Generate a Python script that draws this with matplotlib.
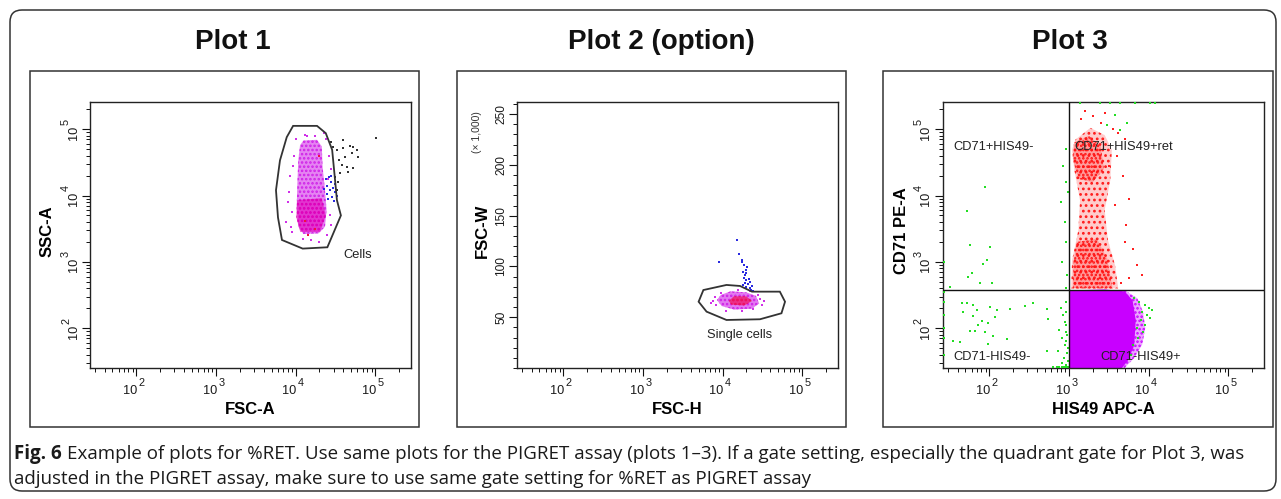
import numpy as np
import matplotlib
matplotlib.use("Agg")
import matplotlib.pyplot as plt
from matplotlib.patches import Polygon, Rectangle, FancyBboxPatch
from matplotlib.transforms import IdentityTransform, blended_transform_factory, offset_copy
from matplotlib.ticker import FixedLocator, LogLocator, MultipleLocator, NullFormatter

plt.rcParams['font.family'] = ['Liberation Sans', 'DejaVu Sans']
plt.rcParams['hatch.linewidth'] = 1.2

# ------------------------------------------------------------------ data
# log axes: values stored as log10 exponents
LOG_LIM_X = [1.42, 5.45]
LOG_LIM_Y = [1.40, 5.41]
DECADES = [2, 3, 4, 5]

TITLES = ["Plot 1", "Plot 2 (option)", "Plot 3"]
XLABELS = ["FSC-A", "FSC-H", "HIS49 APC-A"]
YLABELS = ["SSC-A", "FSC-W", "CD71 PE-A"]

# Plot 1 (FSC-A vs SSC-A)
P1_GATE_LX = [3.97, 4.27, 4.38, 4.46, 4.50, 4.52, 4.57, 4.40, 4.09, 3.83, 3.78, 3.755, 3.805, 3.89]
P1_GATE_LY = [5.05, 5.05, 4.94, 4.69, 4.19, 3.93, 3.70, 3.22, 3.20, 3.33, 3.67, 4.08, 4.53, 4.88]
P1_CLOUD_LX = [4.10, 4.27, 4.33, 4.34, 4.37, 4.39, 4.37, 4.29, 4.10, 4.035, 4.015, 4.023, 4.035, 4.057]
P1_CLOUD_LY = [4.83, 4.84, 4.74, 4.43, 4.08, 3.78, 3.53, 3.43, 3.42, 3.53, 3.83, 4.18, 4.53, 4.76]
P1_DENSE_LX = [4.02, 4.33, 4.38, 4.31, 4.06, 4.01]
P1_DENSE_LY = [3.93, 3.96, 3.70, 3.45, 3.45, 3.67]
P1_HALO_LX = [3.93, 3.90, 3.88, 3.95, 3.98, 4.00, 4.15, 4.25, 4.38, 4.42, 4.45, 4.43, 4.45, 4.40,
              4.20, 4.10, 3.96, 3.92, 4.36, 4.30, 3.97, 4.41, 3.94, 4.12]
P1_HALO_LY = [4.30, 3.90, 3.60, 3.45, 4.60, 4.85, 4.90, 4.90, 4.85, 4.60, 4.40, 3.70, 3.55, 3.40,
              3.33, 3.35, 3.75, 4.05, 4.95, 3.30, 4.45, 4.25, 3.52, 4.92]
P1_RED_LX = [4.16, 4.25, 4.12, 4.30]
P1_RED_LY = [3.40, 3.50, 3.62, 4.60]
P1_BLUE_LX = [4.38, 4.42, 4.45, 4.40, 4.47, 4.43, 4.50, 4.39, 4.46, 4.52, 4.41, 4.48, 4.44, 4.50, 4.36]
P1_BLUE_LY = [4.25, 4.28, 4.20, 4.15, 4.12, 4.08, 4.05, 4.02, 3.98, 4.00, 3.95, 3.92, 4.30, 4.18, 4.10]
P1_BLACK_LX = [4.446, 4.475, 4.517, 4.600, 4.684, 4.768, 4.706, 4.622, 4.550, 4.580, 4.651, 4.726,
               4.663, 4.559, 4.496, 4.538, 4.525, 4.597, 4.72, 4.785, 5.01]
P1_BLACK_LY = [4.810, 4.735, 4.685, 4.710, 4.745, 4.685, 4.635, 4.583, 4.534, 4.458, 4.432, 4.408,
               4.357, 4.333, 4.281, 4.206, 4.080, 4.836, 4.73, 4.58, 4.87]
P1_GATE_NAME = "Cells"
P1_GATE_NAME_POS = [4.60, 3.10]

# Plot 2 (FSC-H vs FSC-W, W in thousands)
P2_YLIM = [0, 262]
P2_YTICKS = [50, 100, 150, 200, 250]
P2_GATE_LX = [3.70, 3.76, 4.05, 4.22, 4.37, 4.72, 4.785, 4.74, 4.47, 4.05, 3.80]
P2_GATE_Y = [65.3, 76.8, 81.8, 80.8, 75.2, 75.2, 65.3, 53.9, 48.0, 47.3, 55.5]
P2_CLOUD_LX = [3.93, 3.98, 4.10, 4.30, 4.42, 4.46, 4.37, 4.15, 3.99]
P2_CLOUD_Y = [67, 72, 75.5, 74.5, 71, 63.5, 58.5, 57.5, 61]
P2_CORE_LX = [4.08, 4.14, 4.30, 4.37, 4.27, 4.11]
P2_CORE_Y = [66, 70.5, 70.5, 66, 61.5, 62.5]
P2_HALO_LX = [3.88, 3.92, 3.90, 4.45, 4.50, 4.47, 4.05, 4.25, 4.38, 4.20, 4.35, 4.52, 3.98, 3.86]
P2_HALO_Y = [66, 62, 70, 72, 62, 68, 56, 56, 58, 77, 76, 66, 74, 64]
P2_BLUE_LX = [4.18, 4.21, 3.95, 4.24, 4.27, 4.29, 4.26, 4.31, 4.25, 4.28, 4.27, 4.30, 4.33, 4.28,
              4.32, 4.35, 4.30, 4.34, 4.37, 4.36, 4.26, 4.38, 4.29]
P2_BLUE_Y = [126, 112, 104, 104, 101, 97, 95, 99, 106, 92, 89, 87, 88, 84,
             83, 85, 80, 79, 81, 77, 82, 76, 94]
P2_GATE_NAME = "Single cells"
P2_GATE_NAME_POS = [4.22, 32.5]
P2_SCALE_NOTE = "(\u00d7 1,000)"

# Plot 3 (HIS49 APC-A vs CD71 PE-A)
P3_QUAD_LX = 3.0
P3_QUAD_LY = 2.57
P3_MAGH_LX = [3.40, 3.72, 3.86, 3.93, 3.96, 3.92, 3.82, 3.70, 3.60]
P3_MAGH_LY = [2.57, 2.56, 2.45, 2.25, 2.00, 1.75, 1.55, 1.40, 1.40]
P3_MAG_LX = [3.008, 3.45, 3.70, 3.80, 3.84, 3.82, 3.74, 3.66, 3.008]
P3_MAG_LY = [2.569, 2.585, 2.555, 2.42, 2.12, 1.74, 1.51, 1.39, 1.39]
P3_RED_LX = [3.08, 3.27, 3.45, 3.54, 3.52, 3.45, 3.49, 3.58, 3.62, 3.03, 3.04, 3.12, 3.14, 3.07, 3.04]
P3_RED_LY = [4.84, 5.02, 4.91, 4.69, 4.23, 3.78, 3.33, 2.95, 2.60, 2.60, 3.02, 3.48, 3.93, 4.38, 4.69]
P3_RED_TOP_LX = [3.07, 3.25, 3.40, 3.44, 3.30, 3.12, 3.05]
P3_RED_TOP_LY = [4.80, 4.90, 4.75, 4.40, 4.20, 4.25, 4.55]
P3_RED_BOT_LX = [3.10, 3.35, 3.48, 3.55, 3.05, 3.06]
P3_RED_BOT_LY = [3.30, 3.35, 3.05, 2.60, 2.60, 3.00]
P3_REDPTS_LX = [3.15, 3.30, 3.40, 3.55, 3.62, 3.45, 3.70, 3.60, 3.68, 3.75, 3.72, 3.80, 3.85,
                3.92, 3.75, 3.65, 3.70, 3.58, 3.20, 3.50]
P3_REDPTS_LY = [5.15, 5.20, 5.10, 5.00, 4.95, 5.25, 4.85, 4.60, 4.30, 3.95, 3.55, 3.20, 2.95,
                2.80, 2.75, 2.68, 3.30, 3.85, 5.28, 4.45]
P3_GREEN_LX = [1.947, 1.718, 1.759, 2.010, 1.926, 1.969, 1.780, 1.738, 1.885, 2.031, 1.508,
               1.655, 1.718, 1.800, 1.851, 2.010, 2.094, 2.261, 2.450, 2.554, 1.675, 1.800,
               1.906, 1.989, 2.073, 2.722, 2.742, 1.759, 1.822, 1.947, 2.052, 1.863, 2.220,
               1.549, 1.633, 1.989, 2.722,
               2.90, 2.93, 2.96, 2.95, 2.97, 2.88, 2.96, 2.98, 2.92, 2.97, 2.95, 2.985, 2.87,
               2.98, 2.96, 2.97, 2.94, 2.99, 2.91, 2.96,
               2.80, 2.85, 2.88, 2.91, 2.94, 2.97, 2.99,
               2.93, 2.96, 2.90, 2.95, 2.97, 2.92, 2.98, 2.96, 2.99,
               1.43, 1.43, 1.43, 1.43, 1.43, 1.43, 1.43,
               3.39, 3.52, 3.64, 3.83, 4.02, 4.08, 3.14,
               3.48, 3.64, 3.73, 3.58,
               3.82, 3.88, 3.95, 4.00, 3.92, 3.98, 4.05, 3.90, 3.96, 3.85, 4.02, 3.93, 3.87,
               3.80, 3.78]
P3_GREEN_LY = [4.130, 3.768, 3.249, 3.224, 2.973, 3.033, 2.837, 2.770, 2.686, 2.686, 2.619,
               2.377, 2.377, 2.343, 2.277, 2.317, 2.267, 2.293, 2.328, 2.377, 2.241, 2.191,
               2.116, 2.075, 2.166, 2.293, 2.142, 1.965, 1.954, 1.939, 1.889, 2.041, 1.839,
               1.814, 1.788, 1.764, 1.663,
               2.30, 2.20, 2.25, 2.10, 2.05, 1.98, 1.95, 1.90, 1.85, 1.80, 1.75, 1.70, 1.65,
               1.62, 2.40, 2.60, 1.55, 1.50, 1.48, 1.45,
               1.41, 1.41, 1.41, 1.41, 1.41, 1.41, 1.41,
               4.45, 4.20, 3.90, 3.60, 3.30, 3.00, 2.80, 4.70, 4.05,
               2.00, 2.20, 2.40, 2.55, 1.85, 3.00, 1.60,
               5.40, 5.40, 5.40, 5.40, 5.40, 5.40, 5.40,
               5.06, 4.99, 5.09, 5.21,
               2.45, 2.40, 2.35, 2.30, 2.25, 2.20, 2.28, 2.12, 2.05, 2.00, 2.15, 1.95, 1.85,
               1.75, 1.60]
P3_QUAD_NAMES = ["CD71+HIS49-", "CD71+HIS49+ret", "CD71-HIS49-", "CD71-HIS49+"]
P3_QUAD_NAME_LX = [1.55, 3.07, 1.55, 3.39]
P3_QUAD_NAME_LY = [4.735, 4.735, 1.562, 1.562]

CAPTION_BOLD = "Fig. 6"
CAPTION_LINE1 = ("Example of plots for %RET. Use same plots for the PIGRET assay (plots 1\u20133). "
                 "If a gate setting, especially the quadrant gate for Plot 3, was")
CAPTION_LINE2 = ("adjusted in the PIGRET assay, make sure to use same gate setting for %RET as "
                 "PIGRET assay")

# ------------------------------------------------------------------ layout
W, H = 1281, 499
fig = plt.figure(figsize=(W / 100, H / 100), dpi=100)

def fx(x):
    return x / W

def fy(y):
    return 1 - y / H

AX_LEFT = [90, 517, 943]
AX_W = 321
AX_TOP, AX_BOTTOM = 102, 368
AX_H = AX_BOTTOM - AX_TOP
PANEL_LR = [(30, 419), (457, 846), (883, 1273)]
PANEL_TB = (71, 427)
TITLE_X = [233, 661, 1070]
TITLE_Y = 42
YLABEL_OFF = [43, 35, 41]   # px left of axes

fig.add_artist(FancyBboxPatch((10, H - 491), 1266, 481,
                              boxstyle="round,pad=0,rounding_size=12",
                              transform=IdentityTransform(), fill=False,
                              ec='#333333', lw=1.1))

for (l, r), tx, title in zip(PANEL_LR, TITLE_X, TITLES):
    fig.add_artist(Rectangle((fx(l), fy(PANEL_TB[1])), fx(r - l), (PANEL_TB[1] - PANEL_TB[0]) / H,
                             transform=fig.transFigure, fill=False, ec='#333333', lw=1.1))
    fig.text(fx(tx), fy(TITLE_Y), title, ha='center', va='center',
             fontsize=20, fontweight='bold', color='#111111')

axes = []
for l in AX_LEFT:
    ax = fig.add_axes([fx(l), fy(AX_BOTTOM), AX_W / W, AX_H / H])
    axes.append(ax)

def pow10(v):
    return np.power(10.0, np.asarray(v, dtype=float))

TICK_TXT = dict(color='#1a1a1a', ha='center', va='center', clip_on=False)
BASE_FS, EXP_FS = 9.2, 7.8

def decade_labels_x(ax):
    bx = blended_transform_factory(ax.transData, ax.transAxes)
    for d in DECADES:
        ax.text(pow10(d), 0, '10', fontsize=BASE_FS,
                transform=offset_copy(bx, x=-6, y=-23, units='dots'), **TICK_TXT)
        ax.text(pow10(d), 0, str(d), fontsize=EXP_FS,
                transform=offset_copy(bx, x=5.5, y=-15, units='dots'), **TICK_TXT)

def decade_labels_y(ax):
    by = blended_transform_factory(ax.transAxes, ax.transData)
    for d in DECADES:
        ax.text(0, pow10(d), '10', fontsize=BASE_FS, rotation=90,
                transform=offset_copy(by, x=-16.5, y=-3.5, units='dots'), **TICK_TXT)
        ax.text(0, pow10(d), str(d), fontsize=EXP_FS, rotation=90,
                transform=offset_copy(by, x=-24, y=7.5, units='dots'), **TICK_TXT)

def style_axes(ax, xlabel, ylabel, ylab_off, logy=True):
    ax.set_xscale('log')
    ax.set_xlim(pow10(LOG_LIM_X[0]), pow10(LOG_LIM_X[1]))
    ax.xaxis.set_major_locator(FixedLocator(pow10(DECADES)))
    ax.xaxis.set_minor_locator(LogLocator(base=10, subs=np.arange(2, 10), numticks=20))
    ax.xaxis.set_major_formatter(NullFormatter())
    ax.xaxis.set_minor_formatter(NullFormatter())
    decade_labels_x(ax)
    if logy:
        ax.set_yscale('log')
        ax.set_ylim(pow10(LOG_LIM_Y[0]), pow10(LOG_LIM_Y[1]))
        ax.yaxis.set_major_locator(FixedLocator(pow10(DECADES)))
        ax.yaxis.set_minor_locator(LogLocator(base=10, subs=np.arange(2, 10), numticks=20))
        decade_labels_y(ax)
    ax.yaxis.set_major_formatter(NullFormatter())
    ax.yaxis.set_minor_formatter(NullFormatter())
    ax.tick_params(which='major', direction='out', length=5.5, width=0.8, color='#111111',
                   top=False, right=False)
    ax.tick_params(which='minor', direction='out', length=3.2, width=0.7, color='#111111',
                   top=False, right=False)
    for s in ax.spines.values():
        s.set_linewidth(1.0)
        s.set_color('#222222')
    ax.set_xlabel(xlabel, fontsize=12, fontweight='bold', va='center')
    ax.xaxis.set_label_coords(0.5, -41 / AX_H)
    ax.set_ylabel(ylabel, fontsize=12, fontweight='bold', va='center')
    ax.yaxis.set_label_coords(-ylab_off / AX_W, 0.515)

GATE_KW = dict(fill=False, ec='#333333', lw=1.3, zorder=4, closed=True)
DOT_KW = dict(s=3, marker='s', linewidths=0, zorder=3)
LABEL_KW = dict(fontsize=9.3, color='#222222', zorder=5)

def poly(lx, y, logy=True):
    yy = pow10(y) if logy else np.asarray(y, dtype=float)
    return np.column_stack([pow10(lx), yy])

def dotted_region(ax, verts, color, base_alpha, hatch, z):
    ax.add_patch(Polygon(verts, closed=True, fc=color, ec='none', alpha=base_alpha, zorder=z))
    ax.add_patch(Polygon(verts, closed=True, fc='none', ec=color, lw=0, hatch=hatch, zorder=z))

# ---------------- Plot 1
ax = axes[0]
style_axes(ax, XLABELS[0], YLABELS[0], YLABEL_OFF[0])
dotted_region(ax, poly(P1_CLOUD_LX, P1_CLOUD_LY), '#D020E8', 0.55, '....', 1)
dotted_region(ax, poly(P1_DENSE_LX, P1_DENSE_LY), '#E000B8', 0.6, '....', 2)
ax.scatter(pow10(P1_HALO_LX), pow10(P1_HALO_LY), c='#D030E8', **DOT_KW)
ax.scatter(pow10(P1_RED_LX), pow10(P1_RED_LY), c='#F01040', **DOT_KW)
ax.scatter(pow10(P1_BLUE_LX), pow10(P1_BLUE_LY), c='#2A2AE0', **DOT_KW)
ax.scatter(pow10(P1_BLACK_LX), pow10(P1_BLACK_LY), c='#333333', **DOT_KW)
ax.add_patch(Polygon(poly(P1_GATE_LX, P1_GATE_LY), **GATE_KW))
ax.text(pow10(P1_GATE_NAME_POS[0]), pow10(P1_GATE_NAME_POS[1]), P1_GATE_NAME,
        ha='left', va='center', **LABEL_KW)

# ---------------- Plot 2
ax = axes[1]
style_axes(ax, XLABELS[1], YLABELS[1], YLABEL_OFF[1], logy=False)
ax.set_ylim(*P2_YLIM)
ax.yaxis.set_major_locator(FixedLocator(P2_YTICKS))
ax.yaxis.set_minor_locator(MultipleLocator(10))
by2 = blended_transform_factory(ax.transAxes, ax.transData)
for v in P2_YTICKS:
    ax.text(0, v, str(v), fontsize=8.6, rotation=90,
            transform=offset_copy(by2, x=-15.5, y=0, units='dots'), **TICK_TXT)
dotted_region(ax, poly(P2_CLOUD_LX, P2_CLOUD_Y, logy=False), '#D020E8', 0.6, '....', 1)
dotted_region(ax, poly(P2_CORE_LX, P2_CORE_Y, logy=False), '#F0105A', 0.7, '....', 2)
ax.scatter(pow10(P2_HALO_LX), P2_HALO_Y, c='#D030E8', **DOT_KW)
ax.scatter(pow10(P2_BLUE_LX), P2_BLUE_Y, c='#2A2AE0', **DOT_KW)
ax.add_patch(Polygon(poly(P2_GATE_LX, P2_GATE_Y, logy=False), **GATE_KW))
ax.text(pow10(P2_GATE_NAME_POS[0]), P2_GATE_NAME_POS[1], P2_GATE_NAME,
        ha='center', va='center', **LABEL_KW)
fig.text(fx(477), fy(132), P2_SCALE_NOTE, rotation=90, ha='center', va='center',
         fontsize=7.5, color='#333333')

# ---------------- Plot 3
ax = axes[2]
style_axes(ax, XLABELS[2], YLABELS[2], YLABEL_OFF[2])
dotted_region(ax, poly(P3_MAGH_LX, P3_MAGH_LY), '#C800FF', 0.35, '....', 1)
ax.add_patch(Polygon(poly(P3_MAG_LX, P3_MAG_LY), closed=True, fc='#C800FF', ec='none', zorder=2))
dotted_region(ax, poly(P3_RED_LX, P3_RED_LY), '#FF1A1A', 0.22, '...', 1)
dotted_region(ax, poly(P3_RED_TOP_LX, P3_RED_TOP_LY), '#FF1010', 0.25, '....', 1)
dotted_region(ax, poly(P3_RED_BOT_LX, P3_RED_BOT_LY), '#FF1010', 0.25, '....', 1)
ax.scatter(pow10(P3_REDPTS_LX), pow10(P3_REDPTS_LY), c='#FF2020', **DOT_KW)
ax.scatter(pow10(P3_GREEN_LX), pow10(P3_GREEN_LY), c='#22DD22', **DOT_KW)
ax.axvline(pow10(P3_QUAD_LX), color='#111111', lw=1.0, zorder=4)
ax.axhline(pow10(P3_QUAD_LY), color='#111111', lw=1.0, zorder=4)
for name, lx, ly in zip(P3_QUAD_NAMES, P3_QUAD_NAME_LX, P3_QUAD_NAME_LY):
    ax.text(pow10(lx), pow10(ly), name, ha='left', va='center', **LABEL_KW)

# ---------------- caption (fit line 1 to its width in the reference)
CAP_X0, CAP_X1 = 14, 1250
CAP_Y1, CAP_Y2 = 459, 484
renderer = fig.canvas.get_renderer()
fs = 10.0
CAP_FONT = ['Open Sans', 'DejaVu Sans']
tb = fig.text(fx(CAP_X0), fy(CAP_Y1), CAPTION_BOLD, fontsize=fs, fontweight='bold',
              family=CAP_FONT, color='#1a1a1a', va='baseline')
t1 = fig.text(0, fy(CAP_Y1), CAPTION_LINE1, fontsize=fs, family=CAP_FONT,
              color='#1a1a1a', va='baseline')
t2 = fig.text(fx(CAP_X0), fy(CAP_Y2), CAPTION_LINE2, fontsize=fs,
              family=CAP_FONT, color='#1a1a1a', va='baseline')
for _ in range(2):
    wb = tb.get_window_extent(renderer).width
    t1.set_x(fx(CAP_X0 + wb + 0.28 * fs * 100 / 72))
    total = t1.get_window_extent(renderer).x1 - CAP_X0
    fs = fs * (CAP_X1 - CAP_X0) / total
    for t in (tb, t1, t2):
        t.set_fontsize(fs)
wb = tb.get_window_extent(renderer).width
t1.set_x(fx(CAP_X0 + wb + 0.28 * fs * 100 / 72))

fig.savefig("out.png", dpi=100)
